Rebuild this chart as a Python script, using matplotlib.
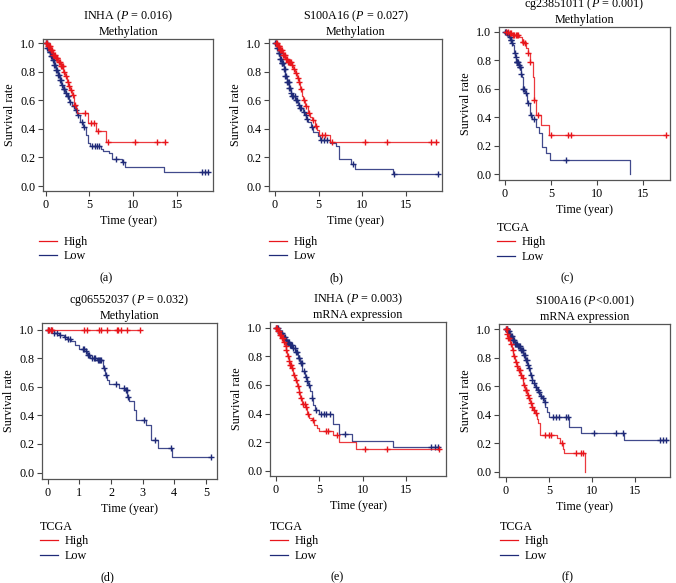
import matplotlib
matplotlib.use("Agg")
import matplotlib.pyplot as plt
from matplotlib.lines import Line2D
import numpy as np

plt.rcParams['font.family'] = ['Liberation Serif', 'DejaVu Serif']
plt.rcParams['mathtext.fontset'] = 'custom'
plt.rcParams['mathtext.rm'] = 'Liberation Serif'
plt.rcParams['mathtext.it'] = 'Liberation Serif:italic'

RED = '#e8161c'
BLUE = '#1f2a78'

# ---- data (event times, survival after event, last follow-up, censor times)
# (a) INHA methylation
a_hi_t = [0.2, 0.5, 0.8, 1.1, 1.4, 1.7, 2.0, 2.2, 2.4, 2.6, 2.8, 3.0, 3.2, 3.5, 3.6, 4.8, 5.8, 6.9]
a_hi_s = [0.98, 0.95, 0.92, 0.90, 0.87, 0.84, 0.80, 0.77, 0.73, 0.70, 0.67, 0.64, 0.57, 0.55, 0.51, 0.44, 0.385, 0.31]
a_hi_end = 13.7
a_hi_c = [0.05, 0.15, 0.25, 0.35, 0.45, 0.55, 0.65, 0.75, 0.85, 0.95, 1.05, 1.15, 1.25, 1.35, 1.5, 1.6,
          1.7, 1.85, 1.95, 2.1, 2.3, 2.5, 2.65, 2.9, 3.1, 3.3, 4.5, 5.2, 5.5, 6.0, 7.1, 10.2, 12.7, 13.7]
a_lo_t = [0.2, 0.4, 0.6, 0.8, 1.0, 1.2, 1.4, 1.6, 1.8, 2.0, 2.2, 2.4, 2.7, 3.0, 3.3, 3.55, 3.9, 4.3,
          4.6, 4.8, 5.1, 6.3, 6.6, 7.2, 7.6, 8.7, 9.1, 13.5]
a_lo_s = [0.97, 0.94, 0.91, 0.88, 0.85, 0.81, 0.78, 0.74, 0.71, 0.68, 0.65, 0.63, 0.59, 0.56, 0.53, 0.50,
          0.45, 0.41, 0.36, 0.30, 0.28, 0.26, 0.245, 0.23, 0.19, 0.165, 0.13, 0.098]
a_lo_end = 18.6
a_lo_c = [0.05, 0.1, 0.2, 0.3, 0.35, 0.45, 0.5, 0.6, 0.7, 0.75, 0.85, 0.9, 1.0, 1.1, 1.2, 1.3, 1.45,
          1.55, 1.65, 1.75, 1.9, 2.05, 2.15, 2.3, 2.5, 2.6, 2.8, 3.2, 3.5, 3.7, 4.1, 4.4, 5.3, 5.6,
          5.9, 6.1, 8.1, 8.9, 17.9, 18.3, 18.6]

# (b) S100A16 methylation
b_hi_t = [0.3, 0.6, 0.9, 1.2, 1.5, 1.9, 2.1, 2.3, 2.5, 2.7, 2.9, 3.05, 3.2, 3.4, 3.8, 4.0, 4.2, 4.6,
          4.8, 5.0, 6.3]
b_hi_s = [0.98, 0.95, 0.92, 0.89, 0.87, 0.85, 0.82, 0.79, 0.76, 0.73, 0.68, 0.63, 0.60, 0.56, 0.51,
          0.48, 0.46, 0.42, 0.39, 0.355, 0.31]
b_hi_end = 18.5
b_hi_c = [0.1, 0.2, 0.3, 0.4, 0.5, 0.6, 0.7, 0.8, 0.9, 1.0, 1.1, 1.25, 1.35, 1.5, 1.6, 1.7, 1.8, 2.0,
          2.2, 2.4, 2.6, 2.8, 3.0, 3.3, 3.6, 3.9, 4.3, 4.7, 5.4, 5.7, 6.5, 10.3, 12.8, 17.9, 18.4]
b_lo_t = [0.2, 0.4, 0.6, 0.8, 1.0, 1.2, 1.4, 1.6, 1.8, 2.0, 2.3, 2.6, 2.9, 3.2, 3.4, 3.6, 3.8, 4.1,
          4.4, 4.9, 5.15, 6.3, 7.0, 7.3, 8.7, 9.2, 13.5]
b_lo_s = [0.97, 0.93, 0.89, 0.86, 0.82, 0.77, 0.73, 0.69, 0.65, 0.63, 0.60, 0.57, 0.55, 0.52, 0.50,
          0.47, 0.45, 0.41, 0.38, 0.35, 0.325, 0.30, 0.28, 0.186, 0.155, 0.116, 0.081]
b_lo_end = 18.7
b_lo_c = [0.05, 0.15, 0.2, 0.3, 0.4, 0.45, 0.55, 0.6, 0.7, 0.8, 0.85, 0.95, 1.05, 1.1, 1.2, 1.3, 1.4,
          1.5, 1.55, 1.65, 1.75, 1.85, 2.0, 2.1, 2.25, 2.4, 2.5, 2.7, 2.9, 3.0, 3.3, 3.5, 3.7, 4.2,
          5.3, 5.6, 6.0, 8.9, 13.6, 18.7]

# (c) cg23851011 methylation
c_hi_t = [0.4, 0.8, 1.5, 1.8, 2.1, 2.3, 2.5, 2.7, 3.0, 3.1, 3.2, 3.4, 3.9, 4.8]
c_hi_s = [0.99, 0.977, 0.965, 0.93, 0.918, 0.883, 0.848, 0.79, 0.68, 0.60, 0.52, 0.415, 0.344, 0.274]
c_hi_end = 17.5
c_hi_c = [0.1, 0.3, 0.5, 0.6, 0.9, 1.0, 1.2, 1.3, 1.4, 1.9, 2.0, 2.2, 2.5, 2.7, 3.2, 3.6, 5.0, 6.8,
          7.2, 17.5]
c_lo_t = [0.2, 0.35, 0.5, 0.6, 0.75, 0.85, 0.95, 1.0, 1.1, 1.2, 1.45, 1.6, 1.7, 1.8, 1.9, 2.2, 2.4,
          2.7, 2.9, 3.4, 3.7, 4.0, 4.4, 4.9, 13.55]
c_lo_s = [0.99, 0.977, 0.96, 0.94, 0.92, 0.906, 0.87, 0.848, 0.82, 0.79, 0.766, 0.754, 0.70, 0.684,
          0.60, 0.57, 0.50, 0.415, 0.39, 0.33, 0.286, 0.19, 0.145, 0.098, 0.0]
c_lo_end = 13.55
c_lo_c = [0.05, 0.1, 0.2, 0.3, 0.4, 0.5, 0.65, 0.7, 0.8, 1.05, 1.15, 1.25, 1.3, 1.35, 1.4, 1.5, 1.6,
          1.65, 1.75, 2.0, 2.1, 2.3, 2.45, 2.8, 3.1, 6.6]

# (d) cg06552037 methylation
d_hi_t = []
d_hi_s = []
d_hi_end = 2.92
d_hi_c = [0.0, 0.05, 0.1, 0.15, 1.14, 1.24, 1.62, 1.67, 1.86, 2.18, 2.22, 2.31, 2.52, 2.92]
d_lo_t = [0.2, 0.35, 0.5, 0.6, 0.75, 0.85, 1.0, 1.2, 1.25, 1.35, 1.55, 1.75, 1.82, 1.88, 1.93, 2.25,
          2.45, 2.52, 2.57, 2.72, 2.8, 3.1, 3.27, 3.48, 3.93]
d_lo_s = [0.98, 0.965, 0.95, 0.937, 0.918, 0.895, 0.864, 0.85, 0.825, 0.80, 0.79, 0.73, 0.685, 0.65,
          0.62, 0.59, 0.575, 0.53, 0.50, 0.44, 0.37, 0.334, 0.23, 0.17, 0.112]
d_lo_end = 5.15
d_lo_c = [0.02, 0.1, 0.2, 0.3, 0.4, 0.55, 0.65, 0.7, 1.1, 1.15, 1.2, 1.27, 1.3, 1.4, 1.45, 1.5, 1.58,
          1.62, 1.65, 1.7, 1.78, 1.85, 2.15, 2.42, 2.47, 2.5, 2.55, 3.05, 3.4, 3.9, 5.15]

# (e) INHA mRNA
e_hi_t = [0.2, 0.4, 0.6, 0.85, 1.0, 1.15, 1.3, 1.45, 1.6, 1.8, 2.0, 2.2, 2.4, 2.6, 2.8, 3.0, 3.35,
          3.55, 3.8, 4.1, 4.4, 4.7, 5.0, 6.6, 7.2, 9.2]
e_hi_s = [0.98, 0.95, 0.93, 0.90, 0.87, 0.844, 0.80, 0.77, 0.74, 0.716, 0.67, 0.634, 0.59, 0.552,
          0.51, 0.47, 0.448, 0.40, 0.37, 0.354, 0.32, 0.30, 0.28, 0.25, 0.20, 0.15]
e_hi_end = 18.9
e_hi_c = [0.05, 0.15, 0.25, 0.35, 0.45, 0.55, 0.7, 0.8, 0.95, 1.1, 1.2, 1.35, 1.5, 1.65, 1.75, 1.9,
          2.1, 2.3, 2.5, 2.7, 2.9, 3.1, 3.3, 3.5, 3.7, 4.3, 5.8, 6.0, 7.0, 10.3, 12.8, 18.8]
e_lo_t = [0.3, 0.5, 0.8, 1.04, 1.3, 1.6, 1.9, 2.2, 2.5, 2.77, 3.05, 3.35, 3.55, 3.73, 3.9, 4.1, 4.3,
          4.5, 4.9, 6.6, 7.2, 8.8, 13.5]
e_lo_s = [0.975, 0.96, 0.935, 0.914, 0.90, 0.88, 0.86, 0.83, 0.79, 0.75, 0.70, 0.657, 0.63, 0.60,
          0.56, 0.505, 0.46, 0.424, 0.40, 0.33, 0.26, 0.21, 0.168]
e_lo_end = 18.7
e_lo_c = [0.05, 0.1, 0.2, 0.3, 0.4, 0.5, 0.6, 0.7, 0.8, 0.9, 1.0, 1.1, 1.2, 1.3, 1.4, 1.5, 1.6, 1.7,
          1.85, 2.0, 2.15, 2.3, 2.45, 2.6, 2.7, 2.9, 3.0, 3.2, 3.4, 3.6, 3.8, 4.2, 4.6, 5.2, 5.5,
          5.8, 6.2, 8.0, 17.9, 18.3, 18.6]

# (f) S100A16 mRNA
f_hi_t = [0.15, 0.3, 0.5, 0.7, 0.9, 1.08, 1.3, 1.47, 1.7, 1.86, 2.05, 2.25, 2.45, 2.63, 2.8, 3.0,
          3.2, 3.4, 3.6, 3.8, 4.0, 5.9, 6.3, 6.6, 6.8, 9.2]
f_hi_s = [0.97, 0.937, 0.90, 0.855, 0.81, 0.773, 0.74, 0.714, 0.68, 0.656, 0.61, 0.574, 0.54, 0.515,
          0.48, 0.457, 0.43, 0.41, 0.37, 0.34, 0.258, 0.234, 0.20, 0.16, 0.129, 0.0]
f_hi_end = 9.2
f_hi_c = [0.05, 0.1, 0.2, 0.3, 0.4, 0.6, 0.8, 1.0, 1.2, 1.35, 1.5, 1.6, 1.8, 1.95, 2.1, 2.3, 2.4,
          2.55, 2.7, 2.9, 3.1, 3.3, 3.5, 4.5, 5.0, 5.3, 6.5, 8.1, 8.7, 9.0]
f_lo_t = [0.2, 0.5, 0.8, 1.1, 1.4, 1.7, 2.0, 2.27, 2.5, 2.66, 2.85, 3.05, 3.25, 3.44, 3.6, 3.83, 4.0,
          4.2, 4.4, 4.6, 4.8, 5.0, 7.3, 8.7, 13.7]
f_lo_s = [0.985, 0.95, 0.925, 0.90, 0.88, 0.855, 0.82, 0.785, 0.75, 0.726, 0.68, 0.644, 0.62, 0.597,
          0.575, 0.56, 0.535, 0.515, 0.49, 0.457, 0.42, 0.386, 0.316, 0.27, 0.222]
f_lo_end = 18.8
f_lo_c = [0.05, 0.1, 0.15, 0.25, 0.3, 0.4, 0.5, 0.6, 0.7, 0.8, 0.9, 1.0, 1.1, 1.2, 1.3, 1.4, 1.5,
          1.6, 1.75, 1.85, 1.95, 2.1, 2.2, 2.35, 2.45, 2.6, 2.75, 2.9, 3.1, 3.3, 3.5, 3.7, 3.9, 4.1,
          4.3, 4.5, 5.5, 5.8, 6.2, 7.0, 7.2, 10.3, 12.8, 13.6, 17.9, 18.3, 18.6]

titles = ['INHA ($P$ = 0.016)\nMethylation', 'S100A16 ($P$ = 0.027)\nMethylation',
          'cg23851011 ($P$ = 0.001)\nMethylation', 'cg06552037 ($P$ = 0.032)\nMethylation',
          'INHA ($P$ = 0.003)\nmRNA expression', 'S100A16 ($P$<0.001)\nmRNA expression']
tags = ['(a)', '(b)', '(c)', '(d)', '(e)', '(f)']
xticks = [[0, 5, 10, 15]] * 3 + [[0, 1, 2, 3, 4, 5]] + [[0, 5, 10, 15]] * 2

# ---- layout in pixels: left, top, right, bottom of each plot box
W, H = 676, 583
boxes = [(43, 39, 213, 191), (269, 39, 442, 191), (499, 27, 670, 180),
         (42, 323, 217, 479), (270, 322, 446, 476), (499, 324, 670, 477)]
xlims = [(-0.31, 19.16), (-0.69, 19.13), (-0.65, 17.9), (-0.18, 5.35), (-0.69, 19.57), (-0.78, 19.06)]
ylims = [(-0.035, 1.03), (-0.035, 1.03), (-0.042, 1.033), (-0.045, 1.047), (-0.037, 1.04), (-0.037, 1.037)]
leg_pos = [(39, 236), (269, 236), (497, 222), (40, 521), (270, 521), (500, 521)]
tag_pos = [(106, 278), (336, 278), (567, 278), (107, 577), (337, 577), (567, 577)]

curves = [
    ((a_hi_t, a_hi_s, a_hi_end, a_hi_c), (a_lo_t, a_lo_s, a_lo_end, a_lo_c)),
    ((b_hi_t, b_hi_s, b_hi_end, b_hi_c), (b_lo_t, b_lo_s, b_lo_end, b_lo_c)),
    ((c_hi_t, c_hi_s, c_hi_end, c_hi_c), (c_lo_t, c_lo_s, c_lo_end, c_lo_c)),
    ((d_hi_t, d_hi_s, d_hi_end, d_hi_c), (d_lo_t, d_lo_s, d_lo_end, d_lo_c)),
    ((e_hi_t, e_hi_s, e_hi_end, e_hi_c), (e_lo_t, e_lo_s, e_lo_end, e_lo_c)),
    ((f_hi_t, f_hi_s, f_hi_end, f_hi_c), (f_lo_t, f_lo_s, f_lo_end, f_lo_c)),
]


def km(ax, t, s, end, cens, color):
    x = [0] + list(t) + [end]
    y = [1.0] + list(s) + [s[-1] if s else 1.0]
    ax.step(x, y, where='post', color=color, lw=0.9, alpha=0.85)
    idx = np.searchsorted(np.array(t, dtype=float), cens, side='right')
    cy = np.r_[1.0, s][idx]
    ax.plot(cens, cy, ls='none', marker='+', ms=5, mew=1.0, color=color)


fig = plt.figure(figsize=(W / 100, H / 100), dpi=100)
FS = 8.7
for i in range(6):
    l, t, r, b = boxes[i]
    ax = fig.add_axes([l / W, 1 - b / H, (r - l) / W, (b - t) / H])
    hi, lo = curves[i]
    # low first so the red sits on top where they overlap
    km(ax, *lo, BLUE)
    km(ax, *hi, RED)
    ax.set_xlim(*xlims[i])
    ax.set_ylim(*ylims[i])
    ax.set_xticks(xticks[i])
    ax.set_yticks([0, 0.2, 0.4, 0.6, 0.8, 1.0])
    ax.set_yticklabels(['0.0', '0.2', '0.4', '0.6', '0.8', '1.0'])
    ax.tick_params(labelsize=FS, length=3.5, width=0.8, color='#444444', pad=2)
    for sp in ax.spines.values():
        sp.set_color('#555555')
        sp.set_linewidth(0.9)
    ax.set_title(titles[i], fontsize=FS, pad=3, linespacing=1.15)
    ax.set_xlabel('Time (year)', fontsize=FS, labelpad=3)
    ax.set_ylabel('Survival rate', fontsize=FS, labelpad=3)

    handles = [Line2D([], [], color=RED, lw=0.9), Line2D([], [], color=BLUE, lw=0.9)]
    lx, ly = leg_pos[i]
    leg = ax.legend(handles, ['High', 'Low'], title=None if i < 2 else 'TCGA',
                    loc='upper left', bbox_to_anchor=(lx / W, 1 - ly / H),
                    bbox_transform=fig.transFigure, frameon=False, fontsize=FS,
                    title_fontsize=FS, handlelength=1.5, handletextpad=0.5,
                    labelspacing=0.2, borderpad=0, borderaxespad=0, alignment='left')
    tx, ty = tag_pos[i]
    fig.text(tx / W, 1 - ty / H, tags[i], fontsize=FS, ha='center', va='center')

fig.savefig('out.png', dpi=100)
